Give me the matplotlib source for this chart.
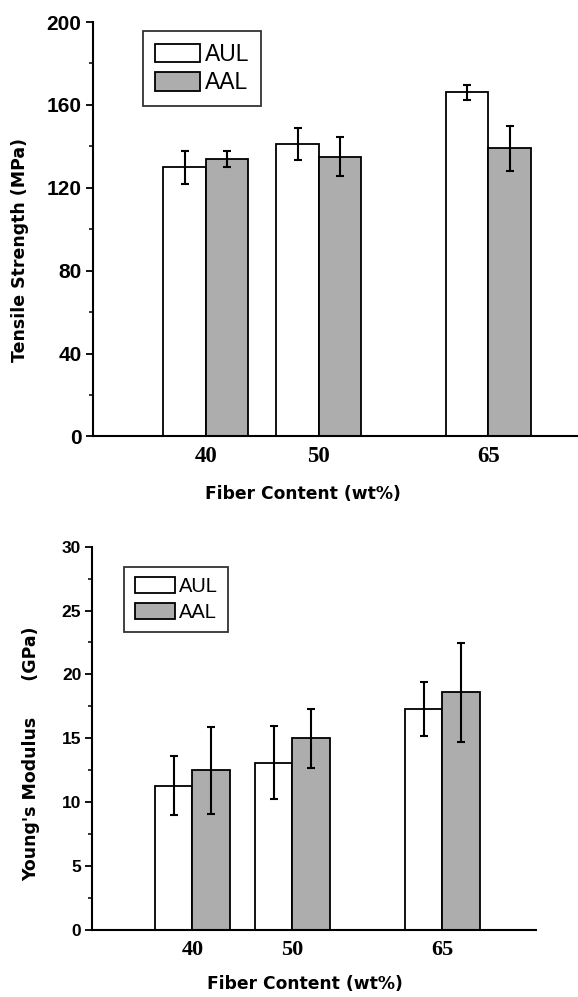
import matplotlib
matplotlib.use("Agg")
import matplotlib.pyplot as plt
from matplotlib.patches import Patch
from matplotlib.ticker import MultipleLocator
import numpy as np

# fiber content groups (wt%)
fiber = np.array([40, 50, 65])
series = ["AUL", "AAL"]

# tensile strength (MPa)
ts_aul = [130, 141, 166]
ts_aul_err = [8, 7.7, 3.8]
ts_aal = [134, 135, 139]
ts_aal_err = [3.8, 9.5, 11]

# Young's modulus (GPa)
ym_aul = [11.3, 13.1, 17.3]
ym_aul_err = [2.3, 2.85, 2.1]
ym_aal = [12.5, 15.0, 18.6]
ym_aal_err = [3.4, 2.3, 3.85]

colors = ["white", "#adadad"]
w = 3.75

fig = plt.figure(figsize=(5.78, 9.97), dpi=100)
ax1 = fig.add_axes([0.1604, 0.5622, 0.880, 0.4157])
ax2 = fig.add_axes([0.1600, 0.0672, 0.768, 0.3845])


def draw(ax, a, ae, b, be, ylim, major, minor, ylabel, tfs, xfs, lfs, lspace, legpos,
         ylab_xy, xlab_x):
    ax.bar(fiber - w / 2, a, w, color=colors[0], edgecolor="black", linewidth=1.3, zorder=2)
    ax.bar(fiber + w / 2, b, w, color=colors[1], edgecolor="black", linewidth=1.3, zorder=2)
    ax.errorbar(fiber - w / 2, a, yerr=ae, fmt="none", ecolor="black", elinewidth=1.5,
                capsize=3, capthick=1.5, zorder=3)
    ax.errorbar(fiber + w / 2, b, yerr=be, fmt="none", ecolor="black", elinewidth=1.5,
                capsize=3, capthick=1.5, zorder=3)
    ax.set_ylim(*ylim)
    ax.spines["top"].set_visible(False)
    ax.spines["right"].set_visible(False)
    ax.spines["left"].set_linewidth(1.5)
    ax.spines["bottom"].set_linewidth(1.5)
    ax.yaxis.set_major_locator(MultipleLocator(major))
    ax.yaxis.set_minor_locator(MultipleLocator(minor))
    ax.tick_params(axis="y", which="major", length=5, width=1.3, pad=3)
    ax.tick_params(axis="y", which="minor", length=3, width=1.1)
    ax.set_xticks(fiber)
    ax.set_xticklabels([str(v) for v in fiber], fontfamily="Liberation Serif",
                       fontweight="bold", fontsize=xfs)
    ax.tick_params(axis="x", length=0, pad=7)
    for t in ax.get_yticklabels():
        t.set_fontfamily("Liberation Sans")
        t.set_fontweight("bold")
        t.set_fontsize(tfs)
    ax.set_xlabel("Fiber Content (wt%)", fontfamily="DejaVu Sans", fontweight="bold",
                  fontsize=12.3)
    ax.xaxis.set_label_coords(xlab_x, -0.117)
    ax.set_ylabel(ylabel, fontfamily="DejaVu Sans", fontweight="bold", fontsize=12.5)
    ax.yaxis.set_label_coords(*ylab_xy)
    handles = [Patch(facecolor=c, edgecolor="black", linewidth=1.3) for c in colors]
    leg = ax.legend(handles, series, loc="upper left", bbox_to_anchor=legpos,
                    frameon=True, fancybox=False, edgecolor="black",
                    prop={"family": "Liberation Sans", "size": lfs},
                    handlelength=2.0, handleheight=0.85, handletextpad=0.2,
                    labelspacing=lspace, borderpad=0.5, borderaxespad=0)
    leg.get_frame().set_linewidth(1.3)


ax1.set_xlim(30, 75)
draw(ax1, ts_aul, ts_aul_err, ts_aal, ts_aal_err, (0, 200), 40, 20,
     "Tensile Strength (MPa)", 15, 16.5, 16.5, 0.25, (0.099, 0.978), (-0.125, 0.45), 0.414)
ax2.set_xlim(30, 74.4)
draw(ax2, ym_aul, ym_aul_err, ym_aal, ym_aal_err, (0, 30), 5, 2.5,
     "Young's Modulus      (GPa)", 12.5, 16, 14.5, 0.35, (0.072, 0.947), (-0.118, 0.46), 0.479)

fig.savefig("out.png", dpi=100)
